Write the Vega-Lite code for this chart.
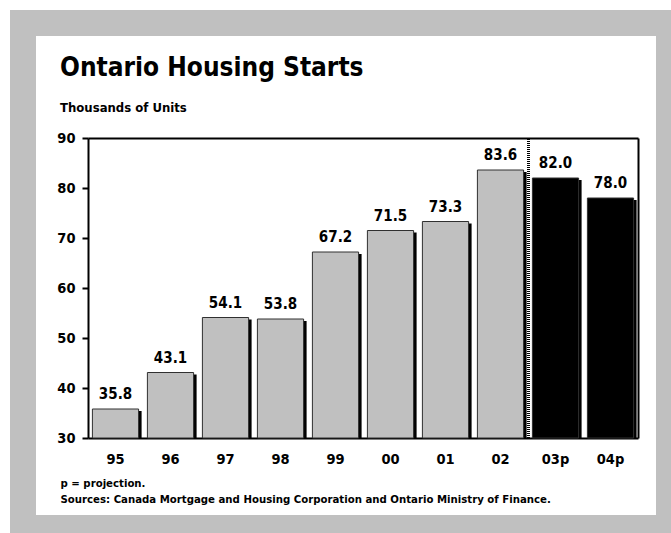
{
  "$schema": "https://vega.github.io/schema/vega-lite/v6.json",
  "width": 646,
  "height": 505,
  "autosize": {"type": "none"},
  "padding": {"left": 23, "top": 23, "right": 2, "bottom": 5},
  "background": "white",
  "config": {
    "font": "DejaVu Sans Condensed",
    "view": {"stroke": "#c0c0c0", "strokeWidth": 26, "fill": "white"},
    "axis": {"grid": false, "labelColor": "black", "domainColor": "black", "tickColor": "black"}
  },
  "title": {
    "text": "Ontario Housing Starts",
    "subtitle": "Thousands of Units",
    "anchor": "start",
    "frame": "group",
    "orient": "top",
    "dx": 37,
    "offset": -92,
    "font": "DejaVu Sans Condensed",
    "fontSize": 26,
    "fontWeight": "bold",
    "color": "black",
    "subtitleFont": "DejaVu Sans Condensed",
    "subtitleFontSize": 13,
    "subtitleFontWeight": "bold",
    "subtitleColor": "black",
    "subtitlePadding": 21
  },
  "data": {
    "values": [
      {"year": "95", "value": 35.8, "type": "actual"},
      {"year": "96", "value": 43.1, "type": "actual"},
      {"year": "97", "value": 54.1, "type": "actual"},
      {"year": "98", "value": 53.8, "type": "actual"},
      {"year": "99", "value": 67.2, "type": "actual"},
      {"year": "00", "value": 71.5, "type": "actual"},
      {"year": "01", "value": 73.3, "type": "actual"},
      {"year": "02", "value": 83.6, "type": "actual"},
      {"year": "03p", "value": 82.0, "type": "projection"},
      {"year": "04p", "value": 78.0, "type": "projection"}
    ]
  },
  "layer": [
    {
      "mark": {"type": "bar", "color": "black", "xOffset": 3, "yOffset": 2, "y2Offset": 0},
      "encoding": {
        "x": {"field": "year", "type": "nominal", "sort": null,
              "scale": {"range": [65, 615], "paddingInner": 0.16, "paddingOuter": 0.08},
              "axis": null},
        "y": {"field": "value", "type": "quantitative",
              "scale": {"domain": [30, 90], "range": [415, 115], "nice": false, "zero": false},
              "axis": null},
        "y2": {"datum": 30}
      }
    },
    {
      "mark": {"type": "bar", "stroke": "#303030", "strokeWidth": 1},
      "encoding": {
        "x": {"field": "year", "type": "nominal", "sort": null,
              "axis": {"orient": "bottom", "offset": -90, "labelAngle": 0, "ticks": false, "tickSize": 0,
                       "labelPadding": 14, "labelFontSize": 14.5, "labelFontWeight": "bold",
                       "domainWidth": 2,
                       "title": ["p = projection.", "Sources:  Canada Mortgage and Housing Corporation and Ontario Ministry of Finance."],
                       "titleFontSize": 11.3, "titleFontWeight": "bold", "titleColor": "black",
                       "titleAlign": "left", "titleAnchor": "start", "titleBaseline": "alphabetic",
                       "titleX": 37, "titleY": 48, "titleLineHeight": 16.5}},
        "y": {"field": "value", "type": "quantitative",
              "axis": {"orient": "left", "offset": -65, "values": [30, 40, 50, 60, 70, 80, 90],
                       "tickSize": 6, "tickWidth": 2, "domainWidth": 2, "labelPadding": 7,
                       "labelFontSize": 14.5, "labelFontWeight": "bold", "title": null}},
        "y2": {"datum": 30},
        "color": {"field": "type", "type": "nominal",
                  "scale": {"domain": ["actual", "projection"], "range": ["#c0c0c0", "#000000"]},
                  "legend": null}
      }
    },
    {
      "mark": {"type": "text", "dy": -10, "baseline": "alphabetic", "fontSize": 15, "fontWeight": "bold", "color": "black"},
      "encoding": {
        "x": {"field": "year", "type": "nominal", "sort": null,
              "axis": {"orient": "top", "offset": -115, "labels": false, "ticks": false, "domainWidth": 2, "title": null}},
        "y": {"field": "value", "type": "quantitative",
              "axis": {"orient": "right", "offset": -31, "labels": false, "ticks": false, "domainWidth": 2, "title": null}},
        "text": {"field": "value", "type": "quantitative", "format": ".1f"}
      }
    },
    {
      "mark": {"type": "rule", "color": "black", "strokeWidth": 2, "strokeDash": [1, 1], "xOffset": -4},
      "encoding": {
        "x": {"datum": "03p", "bandPosition": 0, "axis": null},
        "y": {"datum": 30, "axis": null},
        "y2": {"datum": 90}
      }
    }
  ],
  "resolve": {"axis": {"x": "independent", "y": "independent"}}
}
